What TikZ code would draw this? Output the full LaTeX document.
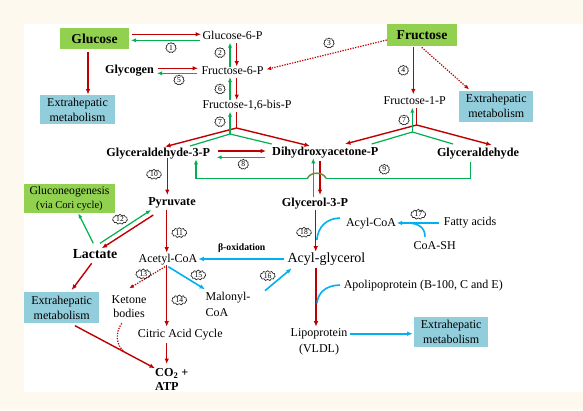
\documentclass[tikz,border=0pt]{standalone}
\usepackage{fontspec}
\setmainfont{Liberation Serif}
\usetikzlibrary{arrows.meta,shapes.symbols}
\definecolor{cream}{HTML}{FDF9EE}
\definecolor{myred}{HTML}{C00000}
\definecolor{mygreen}{HTML}{00B050}
\definecolor{myblue}{HTML}{00B0F0}
\definecolor{boxgreen}{HTML}{92D050}
\definecolor{boxblue}{HTML}{92CDDC}
\definecolor{numcol}{HTML}{262626}
\definecolor{humpcol}{HTML}{6E8C3C}
\tikzset{
 txt/.style={inner sep=0pt, font=\fontsize{12}{14}\selectfont, align=center},
 btxt/.style={inner sep=0pt, font=\bfseries\fontsize{12.2}{14}\selectfont, align=center},
 gbox/.style={fill=boxgreen, inner sep=0pt, font=\bfseries\fontsize{13.6}{15}\selectfont},
 bbox/.style={fill=boxblue, inner sep=0pt, align=center, font=\fontsize{12}{15}\selectfont},
 num/.style={cloud, cloud puffs=11, draw=numcol, line width=0.65pt, inner sep=0.2pt, font=\fontsize{7.6}{7.6}\selectfont, text=black, minimum width=10.5pt, minimum height=10pt},
 numw/.style={num, minimum width=15pt, aspect=1.5},
 rarr/.style={draw=myred, line width=1.4pt, -{Latex[length=5.5pt,width=4.6pt]}},
 rline/.style={draw=myred, line width=1.4pt},
 garr/.style={draw=mygreen, line width=1.2pt, -{Latex[length=5pt,width=4.2pt]}},
 gline/.style={draw=mygreen, line width=1.2pt},
 barr/.style={draw=myblue, line width=1.6pt, -{Latex[length=5.5pt,width=4.6pt]}},
 bline/.style={draw=myblue, line width=1.6pt},
 rdot/.style={draw=myred, line width=1.2pt, dash pattern=on 1.3pt off 1.3pt},
 rdotarr/.style={rdot, -{Latex[length=4.5pt,width=4pt]}},
 hump/.style={draw=humpcol, line width=1.5pt},
}
\begin{document}
\begin{tikzpicture}[x=1pt,y=-1pt]
\fill[cream] (0,0) rectangle (583,410);
\fill[white] (24,24) rectangle (583,392);
\useasboundingbox (0,0) rectangle (583,410);

% nodes
\node[gbox, minimum width=69.4pt, minimum height=21.6pt] (gluc) at (94.5,38.5) {Glucose};
\node[txt] (g6p) at (232.5,35) {Glucose-6-P};
\node[bbox, minimum width=75pt, minimum height=29pt] (ext1) at (77.5,109.5) {Extrahepatic\\metabolism};
\node[btxt] (glyc) at (129.5,71) {Glycogen};
\node[txt] (f6p) at (232.5,71) {Fructose-6-P};
\node[txt] (f16) at (247,105) {Fructose-1,6-bis-P};
\node[gbox, minimum width=69.4pt, minimum height=21.7pt] (fru) at (422,35) {Fructose};
\node[txt] (f1p) at (414.7,101) {Fructose-1-P};
\node[bbox, minimum width=74pt, minimum height=30.7pt] (ext2) at (496.3,106.3) {Extrahepatic\\metabolism};
\node[btxt] (gap) at (158.3,154) {Glyceraldehyde-3-P};
\node[btxt] (dhap) at (325.3,152.7) {Dihydroxyacetone-P};
\node[btxt] (gald) at (478,153.3) {Glyceraldehyde};
\node[btxt] (pyr) at (172,202.7) {Pyruvate};
\node[fill=boxgreen, inner sep=0pt, align=center, minimum width=91pt, minimum height=28.7pt, font=\fontsize{11.7}{13.7}\selectfont] (gneo) at (69.5,198.3) {Gluconeogenesis\\{\fontsize{10.6}{12}\selectfont (via Cori cycle)}};
\node[btxt, font=\bfseries\fontsize{13.8}{15}\selectfont] (lac) at (95,254) {Lactate};
\node[bbox, minimum width=75.3pt, minimum height=31pt] (ext3) at (61.7,307.8) {Extrahepatic\\metabolism};
\node[txt] (acoa) at (168,259.3) {Acetyl-CoA};
\node[btxt] (g3p) at (315,204) {Glycerol-3-P};
\node[txt] (acylcoa) at (371,223.3) {Acyl-CoA};
\node[txt] (fatty) at (470,222.7) {Fatty acids};
\node[txt] (coash) at (434.7,245.7) {CoA-SH};
\node[txt, font=\fontsize{14}{16}\selectfont] (acylg) at (326.5,258.8) {Acyl-glycerol};
\node[btxt, font=\bfseries\fontsize{9.7}{11}\selectfont] (boxi) at (241.7,247.7) {β-oxidation};
\node[txt] (ket) at (129,307) {Ketone\\bodies};
\node[txt, align=left, font=\fontsize{12}{15.6}\selectfont] (mal) at (228,304.5) {Malonyl-\\CoA};
\node[txt] (citric) at (180.3,335) {Citric Acid Cycle};
\node[btxt, align=left, anchor=west] (co2) at (155,379.7) {CO\textsubscript{2} +\\ATP};
\node[txt] (apol) at (423.3,285.7) {Apolipoprotein (B-100, C and E)};
\node[txt, font=\fontsize{12}{15.3}\selectfont] (lipo) at (319,341.7) {Lipoprotein\\(VLDL)};
\node[bbox, minimum width=74.3pt, minimum height=30pt] (ext4) at (451.2,332.3) {Extrahepatic\\metabolism};

% 1
\draw[rarr] ([shift={(37.5,-4.2)}]gluc.center) -- ([shift={(-31.5,-0.7)}]g6p.center);
\draw[garr] ([shift={(-32.5,5.3)}]g6p.center) -- ([shift={(36.5,1.8)}]gluc.center);
\node[num] (n1) at (171,47.7) {1};
\draw[rarr] ([shift={(-6.5,13.5)}]gluc.center) -- ([shift={(10.5,-15)}]ext1.center);
% 5
\draw[rarr] ([shift={(28.5,-2.7)}]glyc.center) -- ([shift={(-34.5,-2.7)}]f6p.center);
\draw[garr] ([shift={(-35.5,2.3)}]f6p.center) -- ([shift={(27.5,2.3)}]glyc.center);
\node[num] (n5) at (179,80) {5};
% 2
\draw[garr] ([shift={(-2.5,-4.3)}]f6p.center) -- ([shift={(-2.5,7.7)}]g6p.center);
\draw[rarr] ([shift={(4.2,8)}]g6p.center) -- ([shift={(4.2,-4.5)}]f6p.center);
\node[num] (n2) at (220,52.7) {2};
% 6
\draw[garr] ([shift={(-17,-5)}]f16.center) -- ([shift={(-2.5,6)}]f6p.center);
\draw[rarr] ([shift={(4.2,6.5)}]f6p.center) -- ([shift={(-10.3,-5)}]f16.center);
\node[num] (n6) at (220,89) {6};
% 7a
\coordinate (j1r) at (236.5,128);
\coordinate (j1g) at (230,134);
\draw[rline] ([shift={(-10.5,6.7)}]f16.center) -- (j1r);
\draw[rarr] (j1r) -- ([shift={(6.7,-7.3)}]gap.center);
\draw[rarr] (j1r) -- ([shift={(-15.3,-6.7)}]dhap.center);
\draw[gline] ([shift={(31.7,-8)}]gap.center) -- (j1g);
\draw[gline] ([shift={(-53.6,-8.7)}]dhap.center) -- (j1g);
\draw[garr] (j1g) -- ([shift={(-17,6.7)}]f16.center);
\node[num] (n7a) at (220,121.7) {7};
% 7b
\coordinate (j2r) at (416.7,125);
\coordinate (j2g) at (412.3,132);
\draw[rline] ([shift={(2,7)}]f1p.center) -- (j2r);
\draw[rarr] (j2r) -- ([shift={(19.7,-8.7)}]dhap.center);
\draw[rarr] (j2r) -- ([shift={(13.7,-8.3)}]gald.center);
\draw[gline] ([shift={(46.4,-8.7)}]dhap.center) -- (j2g);
\draw[gline] ([shift={(-25,-9.3)}]gald.center) -- (j2g);
\draw[garr] (j2g) -- ([shift={(-2.4,6.7)}]f1p.center);
\node[num] (n7b) at (404,120) {7};
% fructose
\draw[rarr] ([shift={(-8.7,11.7)}]fru.center) -- ([shift={(-1.4,-6.7)}]f1p.center);
\node[num] (n4) at (403.3,70.3) {4};
\draw[rdotarr] ([shift={(-0.3,12.3)}]fru.center) -- ([shift={(-27.3,-17)}]ext2.center);
\draw[rdotarr] ([shift={(-35.3,5)}]fru.center) -- ([shift={(34.2,-1.7)}]f6p.center);
\node[num] (n3) at (329,43) {3};
% 8
\draw[rarr] ([shift={(60,-3)}]gap.center) -- ([shift={(-59.3,-1.7)}]dhap.center);
\draw[garr] ([shift={(-60.3,4.6)}]dhap.center) -- ([shift={(58.4,3.3)}]gap.center);
\node[num] (n8) at (243.3,164.3) {8};
% 9
\coordinate (h1) at (326,178.3);
\coordinate (h2) at (307.5,178.3);
\draw[gline] ([shift={(-7.3,8.4)}]gald.center) |- (h1);
\draw[garr] (h2) -| ([shift={(37.7,5.3)}]gap.center);
\node[num] (n9) at (384.3,169.3) {9};
% glycerol-3-P <-> DHAP
\draw[garr] ([shift={(-1.7,-7)}]g3p.center) -- ([shift={(-12,5.6)}]dhap.center);
\draw[rarr] ([shift={(-5.3,8)}]dhap.center) -- ([shift={(5,-9)}]g3p.center);
\draw[hump] (h1) .. controls (323,171.5) and (310.5,171.5) .. (h2);
% 10, 11
\draw[rarr] ([shift={(9,4.3)}]gap.center) -- ([shift={(-4.7,-7.7)}]pyr.center);
\node[numw] (n10) at (154,174.3) {10};
\draw[rarr] ([shift={(-5.3,7.3)}]pyr.center) -- ([shift={(-1.3,-6.6)}]acoa.center);
\node[numw] (n11) at (179.3,232.7) {11};
% 12, lactate
\draw[garr] ([shift={(-1.7,-10.7)}]lac.center) -- ([shift={(8.8,15)}]gneo.center);
\draw[garr] ([shift={(5,-10.7)}]lac.center) -- ([shift={(-21,7.3)}]pyr.center);
\draw[rarr] ([shift={(-18.7,12.3)}]pyr.center) -- ([shift={(6.7,-5.7)}]lac.center);
\node[numw] (n12) at (120,219.3) {12};
\draw[rarr] ([shift={(-3.3,9.3)}]lac.center) -- ([shift={(10,-17.8)}]ext3.center);
\draw[rarr] ([shift={(13.3,17.9)}]ext3.center) -- ([shift={(0,-11.4)}]co2.west);
% 14
\draw[rarr] ([shift={(-1.3,5.7)}]acoa.center) -- ([shift={(-13.6,-8.3)}]citric.center);
\node[numw] (n14) at (179.3,300) {14};
\draw[rarr] ([shift={(-13.6,8.3)}]citric.center) -- ([shift={(11.7,-15.7)}]co2.west);
% 13
\draw[rdotarr] ([shift={(-3,7.4)}]acoa.center) -- ([shift={(0.3,-18.7)}]ket.center);
\node[numw] (n13) at (143.3,274) {13};
\coordinate (kend) at (124,351.5);
\draw[rdot] ([shift={(-7.3,16.3)}]ket.center) .. controls (115,333) and (116,345) .. (kend);
% 15, 16
\draw[barr] ([shift={(0.3,7.4)}]acoa.center) -- ([shift={(-23,-15.2)}]mal.center);
\node[numw] (n15) at (198.3,275) {15};
\draw[barr] ([shift={(37,-13.8)}]mal.center) -- ([shift={(-34.8,9.5)}]acylg.center);
\node[numw] (n16) at (267.7,275.7) {16};
% beta-oxidation
\draw[barr] ([shift={(-42.5,0.2)}]acylg.center) -- ([shift={(30.3,-0.3)}]acoa.center);
% 18
\draw[rarr] ([shift={(0.7,6)}]g3p.center) -- ([shift={(-10.8,-7.1)}]acylg.center);
\node[numw] (n18) at (304,232.3) {18};
\coordinate (j18) at (316.8,240);
\draw[bline] ([shift={(-31,-5.3)}]acylcoa.center) .. controls (326,218.5) and (318,227) .. (j18);
% 17
\draw[barr] ([shift={(-30.7,0.3)}]fatty.center) -- ([shift={(25.7,-0.3)}]acylcoa.center);
\coordinate (j17) at (407,223);
\draw[bline] ([shift={(-9.7,-9)}]coash.center) .. controls (425,228) and (419,223) .. (j17);
\node[numw] (n17) at (418.3,214.3) {17};
% lipoprotein
\draw[rarr] ([shift={(-10.5,9.5)}]acylg.center) -- ([shift={(-3,-15)}]lipo.center);
\coordinate (japo) at (317,303.3);
\draw[bline] ([shift={(-83.3,-0.7)}]apol.center) .. controls (325,285.5) and (318,293) .. (japo);
\draw[barr] ([shift={(31,-8)}]lipo.center) -- ([shift={(-38.5,1.4)}]ext4.center);
\end{tikzpicture}
\end{document}
